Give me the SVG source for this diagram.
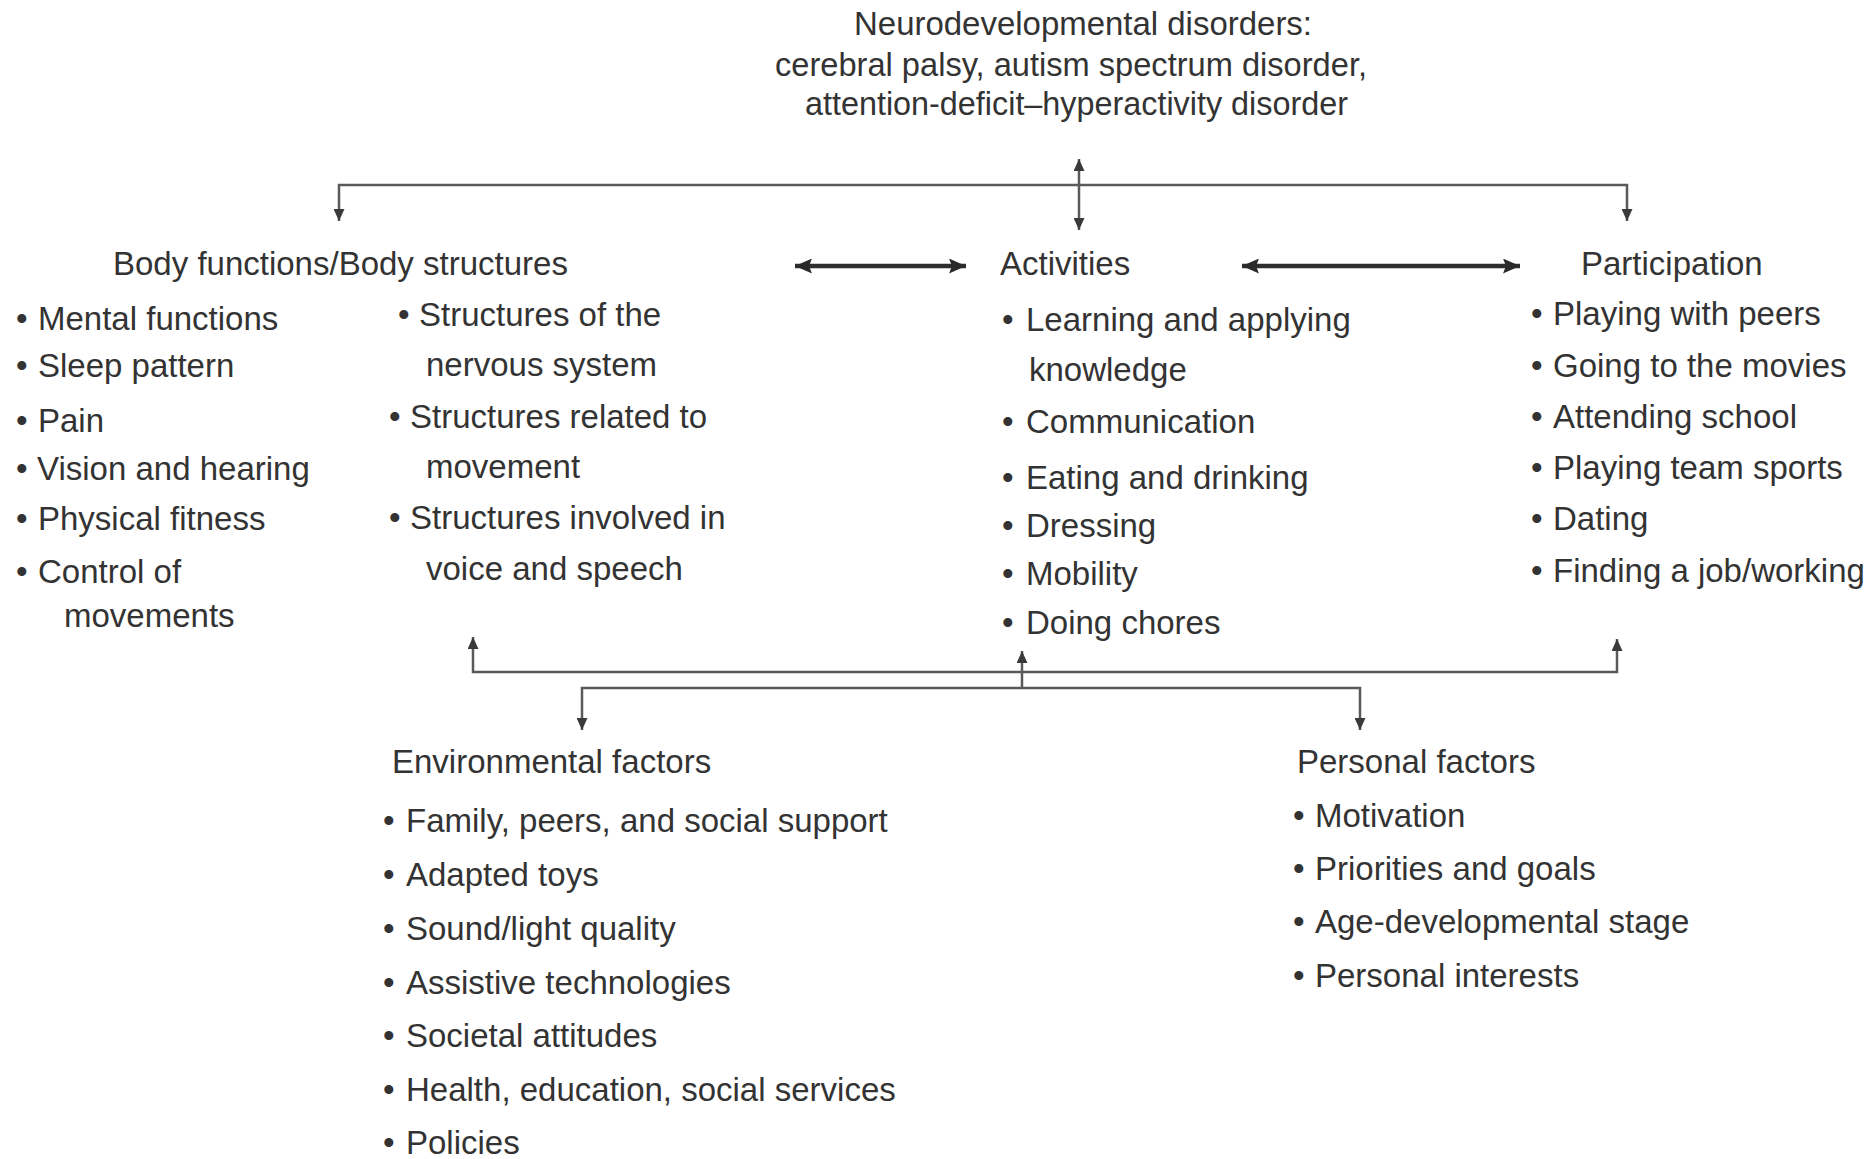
<svg xmlns="http://www.w3.org/2000/svg" width="1872" height="1159" viewBox="0 0 1872 1159">
<defs>
<style>
text{font-family:"Liberation Sans",Arial,Helvetica,sans-serif;font-size:33px;fill:#333;}
.thin{fill:none;stroke:#5a5a5a;stroke-width:2.5;}
.thick{fill:none;stroke:#2e2e2e;stroke-width:4.5;}
</style>
<marker id="ah" markerUnits="userSpaceOnUse" markerWidth="12" markerHeight="11" refX="12" refY="5.5" orient="auto-start-reverse"><path d="M0,0 L12,5.5 L0,11 z" fill="#3a3a3a"/></marker>
<marker id="ahb" markerUnits="userSpaceOnUse" markerWidth="17" markerHeight="15" refX="17" refY="7.5" orient="auto-start-reverse"><path d="M0,0 L17,7.5 L0,15 L3,7.5 z" fill="#2a2a2a"/></marker>
</defs>
<rect width="1872" height="1159" fill="#fff"/>

<g id="connectors">
<path class="thin" d="M339,221 V185 H1627 V221" marker-start="url(#ah)" marker-end="url(#ah)"/>
<path class="thin" d="M1079,159 V230" marker-start="url(#ah)" marker-end="url(#ah)"/>
<path class="thick" d="M795,266 H966" marker-start="url(#ahb)" marker-end="url(#ahb)"/>
<path class="thick" d="M1242,266 H1520" marker-start="url(#ahb)" marker-end="url(#ahb)"/>
<path class="thin" d="M473,637 V672 H1617 V639" marker-start="url(#ah)" marker-end="url(#ah)"/>
<path class="thin" d="M1022,688 V651" marker-end="url(#ah)"/>
<path class="thin" d="M582,730 V688 H1360 V730" marker-start="url(#ah)" marker-end="url(#ah)"/>
</g>

<g id="disorders">
<text x="854" y="35" textLength="458" lengthAdjust="spacingAndGlyphs">Neurodevelopmental disorders:</text>
<text x="775" y="76" textLength="592" lengthAdjust="spacingAndGlyphs">cerebral palsy, autism spectrum disorder,</text>
<text x="805" y="115" textLength="543" lengthAdjust="spacingAndGlyphs">attention-deficit–hyperactivity disorder</text>
</g>

<g id="body">
<text x="113" y="275">Body functions/Body structures</text>
<text y="330"><tspan x="16">•</tspan><tspan x="38">Mental functions</tspan></text>
<text y="377"><tspan x="16">•</tspan><tspan x="38">Sleep pattern</tspan></text>
<text y="432"><tspan x="16">•</tspan><tspan x="38">Pain</tspan></text>
<text y="480"><tspan x="16">•</tspan><tspan x="37">Vision and hearing</tspan></text>
<text y="530"><tspan x="16">•</tspan><tspan x="38">Physical fitness</tspan></text>
<text y="583"><tspan x="16">•</tspan><tspan x="38">Control of</tspan></text>
<text x="64" y="627">movements</text>
<text y="326"><tspan x="398">•</tspan><tspan x="419">Structures of the</tspan></text>
<text x="426" y="376">nervous system</text>
<text y="428"><tspan x="389">•</tspan><tspan x="410">Structures related to</tspan></text>
<text x="426" y="478">movement</text>
<text y="529"><tspan x="389">•</tspan><tspan x="410">Structures involved in</tspan></text>
<text x="426" y="580">voice and speech</text>
</g>

<g id="activities">
<text x="1000" y="275">Activities</text>
<text y="331"><tspan x="1002">•</tspan><tspan x="1026">Learning and applying</tspan></text>
<text x="1029" y="381">knowledge</text>
<text y="433"><tspan x="1002">•</tspan><tspan x="1026">Communication</tspan></text>
<text y="489"><tspan x="1002">•</tspan><tspan x="1026">Eating and drinking</tspan></text>
<text y="537"><tspan x="1002">•</tspan><tspan x="1026">Dressing</tspan></text>
<text y="585"><tspan x="1002">•</tspan><tspan x="1026">Mobility</tspan></text>
<text y="634"><tspan x="1002">•</tspan><tspan x="1026">Doing chores</tspan></text>
</g>

<g id="participation">
<text x="1581" y="275">Participation</text>
<text y="325"><tspan x="1531">•</tspan><tspan x="1553">Playing with peers</tspan></text>
<text y="377"><tspan x="1531">•</tspan><tspan x="1553">Going to the movies</tspan></text>
<text y="428"><tspan x="1531">•</tspan><tspan x="1553">Attending school</tspan></text>
<text y="479"><tspan x="1531">•</tspan><tspan x="1553">Playing team sports</tspan></text>
<text y="530"><tspan x="1531">•</tspan><tspan x="1553">Dating</tspan></text>
<text y="582"><tspan x="1531">•</tspan><tspan x="1553">Finding a job/working</tspan></text>
</g>

<g id="environmental">
<text x="392" y="773">Environmental factors</text>
<text y="832"><tspan x="383">•</tspan><tspan x="406">Family, peers, and social support</tspan></text>
<text y="886"><tspan x="383">•</tspan><tspan x="406">Adapted toys</tspan></text>
<text y="940"><tspan x="383">•</tspan><tspan x="406">Sound/light quality</tspan></text>
<text y="994"><tspan x="383">•</tspan><tspan x="406">Assistive technologies</tspan></text>
<text y="1047"><tspan x="383">•</tspan><tspan x="406">Societal attitudes</tspan></text>
<text y="1101"><tspan x="383">•</tspan><tspan x="406">Health, education, social services</tspan></text>
<text y="1154"><tspan x="383">•</tspan><tspan x="406">Policies</tspan></text>
</g>

<g id="personal">
<text x="1297" y="773">Personal factors</text>
<text y="827"><tspan x="1293">•</tspan><tspan x="1315">Motivation</tspan></text>
<text y="880"><tspan x="1293">•</tspan><tspan x="1315">Priorities and goals</tspan></text>
<text y="933"><tspan x="1293">•</tspan><tspan x="1315">Age-developmental stage</tspan></text>
<text y="987"><tspan x="1293">•</tspan><tspan x="1315">Personal interests</tspan></text>
</g>
</svg>
